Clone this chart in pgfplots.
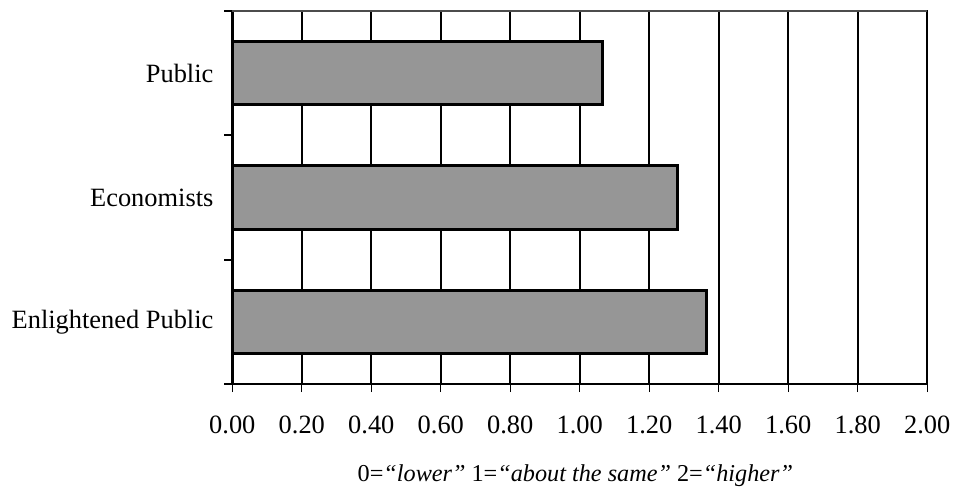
\documentclass[border=0pt]{standalone}
\usepackage{pgfplots}
\pgfplotsset{compat=1.18}
\usepackage{fontspec}
\setmainfont{Liberation Serif}
\definecolor{barfill}{RGB}{150,150,150}

\pgfplotstableread{
pos value
0 1.365
1 1.282
2 1.065
}\means

\begin{document}
\begin{tikzpicture}
\begin{axis}[
    name=ax,
    scale only axis,
    width=350pt, height=188pt,
    xmin=0, xmax=2, ymin=-0.5, ymax=2.5,
    xbar, bar width=0.51,
    xtick={0,0.2,0.4,0.6,0.8,1.0,1.2,1.4,1.6,1.8,2.0},
    xticklabel={\pgfmathprintnumber[fixed,fixed zerofill,precision=2]{\tick}},
    /pgf/number format/assume math mode=true,
    ytick={-0.5,0.5,1.5,2.5},
    yticklabels={},
    extra y ticks={0,1,2},
    extra y tick labels={Enlightened Public,Economists,Public},
    extra y tick style={major tick length=0pt, ytick style={draw=none}, grid=none},
    xtick pos=bottom, ytick pos=left,
    major tick length=4pt,
    tick align=outside,
    ytick style={draw=black, line width=1pt},
    xtick style={draw=black, line width=0.6pt},
    xmajorgrids, grid style={black, line width=1pt},
    axis line style={line width=1pt},
    tick label style={font=\fontsize{13.3pt}{15pt}\selectfont},
    yticklabel style={xshift=-6pt},
    xticklabel style={anchor=base, yshift=-21pt},
    xlabel={0=\textit{“lower”} 1=\textit{“about the same”} 2=\textit{“higher”}},
    xlabel style={font=\fontsize{12.2pt}{15pt}\selectfont, at={(axis description cs:0.4936,-0.245)}, anchor=center},
    clip=false,
]
\addplot[draw=black, line width=1.5pt, fill=barfill] table[x=value, y=pos] {\means};
\draw[black, line width=1.6pt] (rel axis cs:0,0) -- (rel axis cs:0,1);
\draw[gray!60!black, line width=0.6pt] (rel axis cs:0,1) -- (rel axis cs:1,1);
\end{axis}
\path[use as bounding box] ([shift={(-117pt,-53.15pt)}]ax.south west) rectangle ([shift={(11.5pt,5.5pt)}]ax.north east);
\end{tikzpicture}
\end{document}
